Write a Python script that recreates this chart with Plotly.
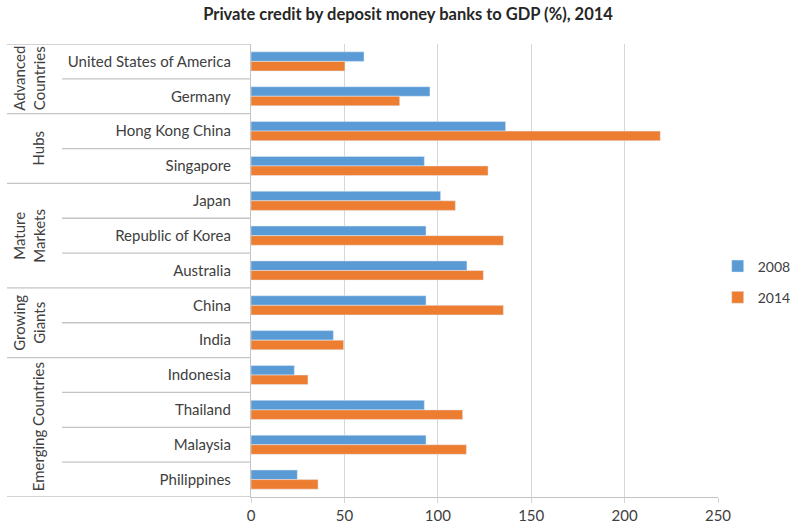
import plotly.graph_objects as go

countries = ["United States of America", "Germany", "Hong Kong China", "Singapore",
             "Japan", "Republic of Korea", "Australia", "China", "India",
             "Indonesia", "Thailand", "Malaysia", "Philippines"]
values_2008 = [60.5, 95.8, 136.3, 92.8, 101.5, 93.7, 115.6, 93.7, 44.1, 23.2, 92.8, 93.7, 24.8]
values_2014 = [50.3, 79.6, 219.1, 126.9, 109.4, 135.1, 124.4, 135.1, 49.6, 30.5, 113.3, 115.3, 35.9]
groups = ["Advanced<br>Countries", "Hubs", "Mature<br>Markets", "Growing<br>Giants", "Emerging Countries"]
group_sizes = [2, 2, 3, 2, 4]
x_ticks = [0, 50, 100, 150, 200, 250]
title = "Private credit by deposit money banks to GDP (%), 2014"

FONT = "Lato"
TXT = "#404040"
LINE = "#c4c4c4"

W, H = 804, 529
ML, MR, MT, MB = 251, 0, 44, 32
pw = W - ML - MR
plot_right = 718
dom_end = (plot_right - ML) / pw

def px_to_paper(px):
    return (px - ML) / pw

fig = go.Figure()
fig.add_trace(go.Bar(y=countries, x=values_2008, name="2008", orientation="h",
                     marker_color="#5B9BD5", legendgroup="a"))
fig.add_trace(go.Bar(y=countries, x=values_2014, name="2014", orientation="h",
                     marker_color="#ED7D31", legendgroup="b"))

shapes = []
boundaries = [0]
for s in group_sizes:
    boundaries.append(boundaries[-1] + s)
for k in range(len(countries) + 1):
    x0 = 7 if k in boundaries else 62
    shapes.append(dict(type="line", xref="paper", yref="y",
                       x0=px_to_paper(x0), x1=0, y0=k - 0.5, y1=k - 0.5,
                       line=dict(color=LINE, width=1.3)))

annotations = []
start = 0
for g, s in zip(groups, group_sizes):
    center = start + (s - 1) / 2
    two = "<br>" in g
    xpx = 29 if two else 38
    annotations.append(dict(text=g, xref="paper", yref="y", x=px_to_paper(xpx), y=center,
                            textangle=-90, showarrow=False, xanchor="center", yanchor="middle",
                            font=dict(family=FONT, size=15, color=TXT)))
    start += s

fig.update_layout(
    width=W, height=H,
    margin=dict(l=ML, r=MR, t=MT, b=MB),
    paper_bgcolor="white", plot_bgcolor="white",
    title=dict(text="<b>" + title + "</b>", x=408 / W, xref="container", xanchor="center",
               y=1 - 14 / H, yref="container", yanchor="middle",
               font=dict(family=FONT, size=16.5, color="#262626")),
    barmode="group", bargap=0.45, bargroupgap=0,
    shapes=shapes, annotations=annotations,
    legend=dict(x=0.985, y=(H - MB - 282) / (H - MT - MB), xanchor="right", yanchor="middle",
                font=dict(family=FONT, size=14, color=TXT), itemwidth=30, tracegroupgap=10,
                bgcolor="rgba(0,0,0,0)"),
    xaxis=dict(domain=[0, dom_end], range=[0, 250], tickvals=x_ticks, showgrid=True,
               gridcolor="#d6d6d6", gridwidth=1.3, automargin=False,
               zeroline=False, showline=True, linecolor=LINE, linewidth=1.3,
               ticks="outside", ticklen=5, tickcolor="#d6d6d6",
               tickfont=dict(family=FONT, size=15, color=TXT)),
    yaxis=dict(type="category", categoryorder="array", categoryarray=countries,
               range=[len(countries) - 0.5, -0.5], showgrid=False, zeroline=False,
               showline=True, linecolor=LINE, linewidth=1.3, ticks="", automargin=False,
               ticklabelstandoff=16,
               tickfont=dict(family=FONT, size=15, color=TXT)),
)

fig.write_html("out.html")
